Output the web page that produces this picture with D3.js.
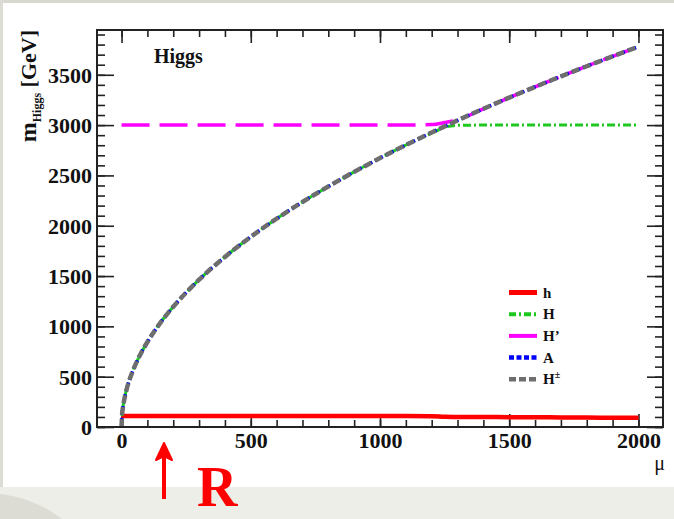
<!DOCTYPE html>
<html>
<head>
<meta charset="utf-8">
<script src="https://cdn.jsdelivr.net/npm/d3@7"></script>
<style>
  html, body { margin: 0; padding: 0; background: #fff; }
  svg { display: block; }
  text { font-family: "Liberation Serif", "Times New Roman", serif; }
</style>
</head>
<body>
<svg id="chart" width="674" height="519"></svg>
<script>
// μ grid shared by the Higgs mass curves
const mu = [0, 2, 5, 10, 20, 40, 60, 80, 100, 150, 200, 300, 400, 500, 600, 700, 800, 900,
            1000, 1100, 1200, 1250, 1300, 1400, 1500, 1600, 1700, 1800, 1900, 2000];

// masses in GeV
const mLight  = [108, 108, 109, 109, 109, 110, 110, 110, 110, 110, 110, 110, 110, 110, 110, 110, 110, 110,
                 110, 109, 108, 102, 100, 99, 98, 97, 95, 94, 92, 91];
const mHeavy  = [0, 120, 189, 267, 378, 534, 655, 756, 845, 1035, 1195, 1464, 1690, 1890, 2070, 2236, 2390, 2535,
                 2672, 2802, 2920, 2978, 2998, 3000, 3000, 3000, 3000, 3000, 3000, 3000];
const mHPrime = [3000, 3000, 3000, 3000, 3000, 3000, 3000, 3000, 3000, 3000, 3000, 3000, 3000, 3000, 3000, 3000, 3000, 3000,
                 3000, 3000, 3005, 3025, 3052, 3162, 3273, 3380, 3484, 3585, 3683, 3779];
const mA      = [0, 120, 189, 267, 378, 534, 655, 756, 845, 1035, 1195, 1464, 1690, 1890, 2070, 2236, 2390, 2535,
                 2672, 2802, 2927, 2987, 3047, 3162, 3273, 3380, 3484, 3585, 3683, 3779];
const mCharged = mA.slice();

const xTicks = [0, 500, 1000, 1500, 2000];
const yTicks = [0, 500, 1000, 1500, 2000, 2500, 3000, 3500];

const series = [
  { name: "h",   values: mLight,   color: "#ff0000", width: 4.5, dash: null },
  { name: "H'",  values: mHPrime,  color: "#ff00ff", width: 3.5, dash: "28 10" },
  { name: "H",   values: mHeavy,   color: "#1ec81e", width: 3,   dash: "8 3 2 3" },
  { name: "A",   values: mA,       color: "#0000ff", width: 3.5, dash: "3 3" },
  { name: "H±",  values: mCharged, color: "#6e6e6e", width: 4.5, dash: "8 4" }
];
const legendOrder = ["h", "H", "H'", "A", "H±"];
const legendLabel = { "h": "h", "H": "H", "H'": "H’", "A": "A", "H±": "H±" };
const legendStyle = {
  "h":  { color: "#ff0000", width: 5, dash: null },
  "H":  { color: "#1ec81e", width: 4, dash: "7 3 2 3" },
  "H'": { color: "#ff00ff", width: 4, dash: null },
  "A":  { color: "#0000ff", width: 4.5, dash: "5 2.5" },
  "H±": { color: "#6e6e6e", width: 4.5, dash: "7 3" }
};

const svg = d3.select("#chart");

// page backdrop: faint border texture and grey strip at the foot
svg.append("rect").attr("x", 0).attr("y", 0).attr("width", 674).attr("height", 519).attr("fill", "#ffffff");
svg.append("rect").attr("x", 0).attr("y", 0).attr("width", 674).attr("height", 3).attr("fill", "#d9d9d2");
svg.append("rect").attr("x", 0).attr("y", 0).attr("width", 3).attr("height", 487).attr("fill", "#dcdcd5");
svg.append("rect").attr("x", 0).attr("y", 487).attr("width", 674).attr("height", 32).attr("fill", "#eceee7");
svg.append("path")
  .attr("d", "M0,494 C25,497 45,506 62,519 L0,519 Z")
  .attr("fill", "#dcdcd4");

const padL = 97, padR = 663, padT = 30, padB = 427;
const x = d3.scaleLinear().domain([-95, 2095]).range([padL, padR]);
const y = d3.scaleLinear().domain([0, 3945]).range([padB, padT]);

const xMinor = d3.range(0, 2001, 100);
const yMinor = d3.range(0, 3901, 100);
const plain = d3.format("d");

function tickAxis(axis, g) {
  g.call(axis);
  g.select(".domain").remove();
  g.selectAll("line").attr("stroke", "#222").attr("stroke-width", 1.6);
  g.selectAll("text").remove();
}

// inward ticks on all four sides
tickAxis(d3.axisBottom(x).tickValues(xMinor).tickSize(-7), svg.append("g").attr("transform", `translate(0,${padB})`));
tickAxis(d3.axisBottom(x).tickValues(xTicks).tickSize(-13), svg.append("g").attr("transform", `translate(0,${padB})`));
tickAxis(d3.axisTop(x).tickValues(xMinor).tickSize(-7), svg.append("g").attr("transform", `translate(0,${padT})`));
tickAxis(d3.axisTop(x).tickValues(xTicks).tickSize(-13), svg.append("g").attr("transform", `translate(0,${padT})`));
tickAxis(d3.axisLeft(y).tickValues(yMinor).tickSize(-8), svg.append("g").attr("transform", `translate(${padL},0)`));
tickAxis(d3.axisLeft(y).tickValues(yTicks).tickSize(-17), svg.append("g").attr("transform", `translate(${padL},0)`));
tickAxis(d3.axisRight(y).tickValues(yMinor).tickSize(-8), svg.append("g").attr("transform", `translate(${padR},0)`));
tickAxis(d3.axisRight(y).tickValues(yTicks).tickSize(-16), svg.append("g").attr("transform", `translate(${padR},0)`));

// tick labels
const xLab = svg.append("g").attr("transform", `translate(0,${padB})`)
  .call(d3.axisBottom(x).tickValues(xTicks).tickFormat(plain).tickSize(0).tickPadding(4));
xLab.select(".domain").remove();
xLab.selectAll("text")
  .attr("font-family", "Liberation Serif").attr("font-size", 22).attr("font-weight", "bold")
  .attr("fill", "#111").attr("dy", null).attr("y", 21);

const yLab = svg.append("g").attr("transform", `translate(${padL},0)`)
  .call(d3.axisLeft(y).tickValues(yTicks).tickFormat(plain).tickSize(0).tickPadding(5));
yLab.select(".domain").remove();
yLab.selectAll("text")
  .attr("font-family", "Liberation Serif").attr("font-size", 22).attr("font-weight", "bold")
  .attr("fill", "#111").attr("dy", "0.34em");

// curves
const line = d3.line()
  .x((d, i) => x(mu[i]))
  .y(d => y(d))
  .curve(d3.curveMonotoneX);

const plot = svg.append("g");
plot.append("defs").append("clipPath").attr("id", "clip")
  .append("rect").attr("x", padL).attr("y", padT).attr("width", padR - padL).attr("height", padB - padT);

const curves = plot.append("g").attr("clip-path", "url(#clip)");
series.forEach(s => {
  const p = curves.append("path")
    .datum(s.values)
    .attr("d", line)
    .attr("fill", "none")
    .attr("stroke", s.color)
    .attr("stroke-width", s.width);
  if (s.dash) p.attr("stroke-dasharray", s.dash);
});

// frame
svg.append("rect")
  .attr("x", padL).attr("y", padT).attr("width", padR - padL).attr("height", padB - padT)
  .attr("fill", "none").attr("stroke", "#222").attr("stroke-width", 2);

// in-plot title
svg.append("text").attr("x", 154).attr("y", 63)
  .attr("font-size", 20).attr("font-weight", "bold").attr("fill", "#111")
  .text("Higgs");

// axis titles
const yt = svg.append("text")
  .attr("transform", "translate(36,30) rotate(-90)")
  .attr("text-anchor", "end")
  .attr("font-weight", "bold").attr("fill", "#111");
yt.append("tspan").attr("font-size", 24).text("m");
yt.append("tspan").attr("font-size", 12).attr("dy", 5).text("Higgs");
yt.append("tspan").attr("font-size", 22).attr("dy", -5).text(" [GeV]");

svg.append("text").attr("x", 665).attr("y", 470)
  .attr("text-anchor", "end").attr("font-size", 20).attr("fill", "#111")
  .text("μ");

// legend
const legend = svg.append("g");
legendOrder.forEach((key, i) => {
  const st = legendStyle[key];
  const ly = 292.5 + i * 21.7;
  const l = legend.append("line")
    .attr("x1", 509).attr("x2", 537).attr("y1", ly).attr("y2", ly)
    .attr("stroke", st.color).attr("stroke-width", st.width);
  if (st.dash) l.attr("stroke-dasharray", st.dash);
  const t = legend.append("text").attr("x", 543).attr("y", ly + 5)
    .attr("font-size", 15).attr("font-weight", "bold").attr("fill", "#111");
  if (key === "H±") {
    t.append("tspan").text("H");
    t.append("tspan").attr("font-size", 10).attr("dy", -6).text("±");
  } else {
    t.text(legendLabel[key]);
  }
});

// annotation arrow and marker letter
svg.append("line").attr("x1", 164).attr("x2", 164).attr("y1", 499).attr("y2", 456)
  .attr("stroke", "#ff0000").attr("stroke-width", 4);
svg.append("path").attr("d", "M164,443 L156,460 L164,456 L172,460 Z")
  .attr("fill", "#ff0000").attr("stroke", "#ff0000").attr("stroke-width", 2).attr("stroke-linejoin", "round");
svg.append("text").attr("x", 197).attr("y", 506)
  .attr("font-size", 56).attr("font-weight", "bold").attr("fill", "#ff0000")
  .text("R");
</script>
</body>
</html>
